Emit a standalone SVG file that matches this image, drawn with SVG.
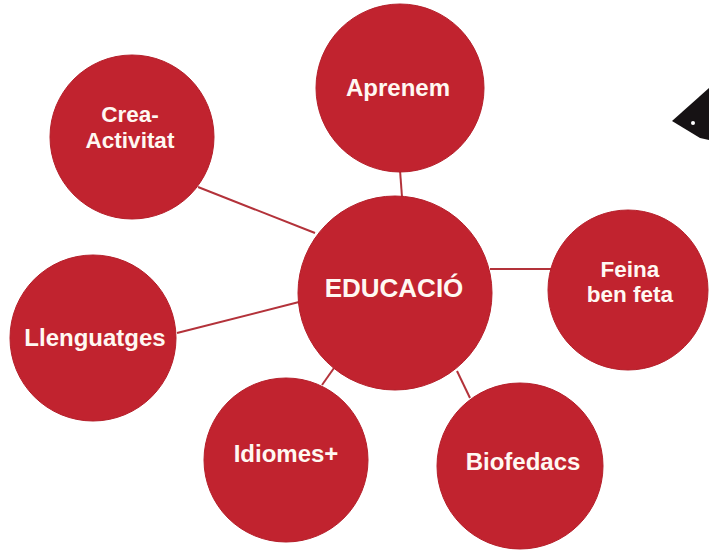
<svg xmlns="http://www.w3.org/2000/svg" width="709" height="550" viewBox="0 0 709 550">
<style>
.node{fill:#c1232f;stroke:#b51f2a;stroke-width:1}
.lbl{font-family:"Liberation Sans",Arial,sans-serif;font-weight:bold;font-size:24px;fill:#fff8f2;text-anchor:middle}
.two{font-size:22.5px}
.edge{stroke:#b3323a;stroke-width:2;fill:none}
</style>
<rect width="709" height="550" fill="#ffffff"/>
<g id="decoration">
<path d="M672,121 L709,88 L709,140 L700,138 Z" fill="#161214"/>
<circle cx="693" cy="123" r="2" fill="#ffffff"/>
</g>
<g id="connectors">
<line class="edge" x1="400" y1="170" x2="402" y2="197"/>
<line class="edge" x1="198" y1="187" x2="315" y2="233"/>
<line class="edge" x1="177" y1="333" x2="299" y2="302"/>
<line class="edge" x1="490" y1="269" x2="551" y2="269"/>
<line class="edge" x1="322" y1="385" x2="334" y2="368"/>
<line class="edge" x1="457" y1="371" x2="470" y2="398"/>
</g>
<g id="aprenem">
<circle class="node" cx="400" cy="88" r="84"/>
<text class="lbl" x="398" y="96">Aprenem</text>
</g>
<g id="crea-activitat">
<circle class="node" cx="132" cy="137" r="82"/>
<text class="lbl two" x="130" y="122">Crea-</text>
<text class="lbl two" x="130" y="148">Activitat</text>
</g>
<g id="educacio">
<circle class="node" cx="395" cy="293" r="97"/>
<text class="lbl" x="394" y="297" style="font-size:26px">EDUCACIÓ</text>
</g>
<g id="feina-ben-feta">
<circle class="node" cx="628" cy="290" r="80"/>
<text class="lbl two" x="630" y="277">Feina</text>
<text class="lbl two" x="630" y="302">ben feta</text>
</g>
<g id="llenguatges">
<circle class="node" cx="93" cy="338" r="83"/>
<text class="lbl" x="95" y="346">Llenguatges</text>
</g>
<g id="idiomes">
<circle class="node" cx="286" cy="460" r="82"/>
<text class="lbl" x="286" y="462">Idiomes+</text>
</g>
<g id="biofedacs">
<circle class="node" cx="520" cy="466" r="83"/>
<text class="lbl" x="523" y="470">Biofedacs</text>
</g>
</svg>
